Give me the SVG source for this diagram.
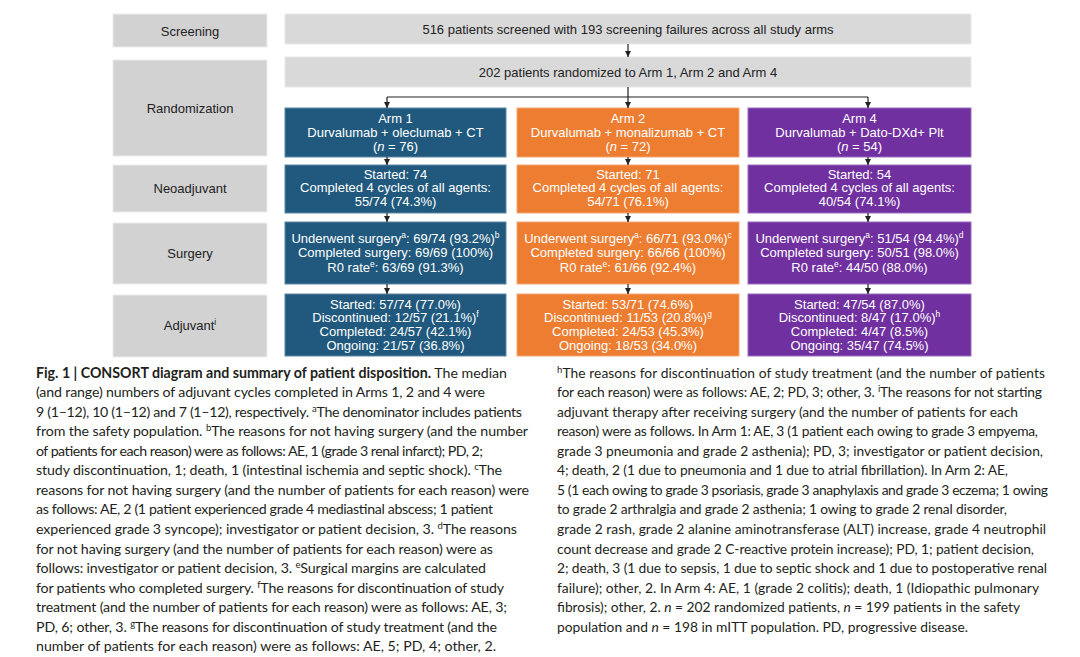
<svg xmlns="http://www.w3.org/2000/svg" width="1080" height="657" viewBox="0 0 1080 657">
<defs>
<style>
.lbl{fill:#d2d2d2;stroke:#ececec;stroke-width:1}
.gb{fill:#d9d9d9;stroke:#e8e8e8;stroke-width:1}
.b1{fill:#20597d;stroke:#5d87a4;stroke-width:1}
.b2{fill:#ed7d31;stroke:#f3a673;stroke-width:1}
.b4{fill:#7030a0;stroke:#9a6cbd;stroke-width:1}
.t{font-family:"Liberation Sans",Arial,sans-serif;font-size:13px;text-anchor:middle}
.dk{fill:#222}
.wt{fill:#fff}
.s{font-size:8.5px}
.cap{font-family:Lato,"Open Sans",sans-serif;font-size:14.2px;fill:#231f20}
.capr{font-size:13.8px}
.cs{font-size:9.5px}
.con{stroke:#222;stroke-width:1.2;fill:none}
</style>
<marker id="ah" viewBox="0 0 6 6" markerWidth="6" markerHeight="6" refX="6" refY="3" orient="auto" markerUnits="userSpaceOnUse">
<path d="M0,0 L6,3 L0,6 z" fill="#222"/>
</marker>
</defs>
<rect width="1080" height="657" fill="#fff"/>

<g id="labels">
<g id="lbl-screening"><rect class="lbl" x="113" y="14" width="154" height="33"/><text class="t dk" x="190" y="35.5">Screening</text></g>
<g id="lbl-randomization"><rect class="lbl" x="113" y="60" width="154" height="96"/><text class="t dk" x="190" y="113">Randomization</text></g>
<g id="lbl-neoadjuvant"><rect class="lbl" x="113" y="165" width="154" height="47"/><text class="t dk" x="190" y="193">Neoadjuvant</text></g>
<g id="lbl-surgery"><rect class="lbl" x="113" y="223" width="154" height="61"/><text class="t dk" x="190" y="257.5">Surgery</text></g>
<g id="lbl-adjuvant"><rect class="lbl" x="113" y="295" width="154" height="62"/><text class="t dk" x="190" y="330">Adjuvant<tspan class="s" baseline-shift="super">i</tspan></text></g>
</g>

<g id="screened"><rect class="gb" x="285" y="14" width="686" height="30"/><text class="t dk" x="628" y="33.6">516 patients screened with 193 screening failures across all study arms</text></g>
<g id="randomized"><rect class="gb" x="285" y="57" width="686" height="30"/><text class="t dk" x="628" y="76.6">202 patients randomized to Arm 1, Arm 2 and Arm 4</text></g>

<g id="arm1">
<rect class="b1" x="285" y="108" width="221" height="49"/>
<text class="t wt" x="395.5" y="122.7">Arm 1</text>
<text class="t wt" x="395.5" y="136.7">Durvalumab + oleclumab + CT</text>
<text class="t wt" x="395.5" y="150.7">(<tspan font-style="italic">n</tspan> = 76)</text>
</g>
<g id="arm2">
<rect class="b2" x="517" y="108" width="222" height="49"/>
<text class="t wt" x="628" y="122.7">Arm 2</text>
<text class="t wt" x="628" y="136.7">Durvalumab + monalizumab + CT</text>
<text class="t wt" x="628" y="150.7">(<tspan font-style="italic">n</tspan> = 72)</text>
</g>
<g id="arm4">
<rect class="b4" x="748" y="108" width="223" height="49"/>
<text class="t wt" x="859.5" y="122.7">Arm 4</text>
<text class="t wt" x="859.5" y="136.7">Durvalumab + Dato-DXd+ Plt</text>
<text class="t wt" x="859.5" y="150.7">(<tspan font-style="italic">n</tspan> = 54)</text>
</g>

<g id="neo1">
<rect class="b1" x="285" y="165" width="221" height="48"/>
<text class="t wt" x="395.5" y="178.5">Started: 74</text>
<text class="t wt" x="395.5" y="192">Completed 4 cycles of all agents:</text>
<text class="t wt" x="395.5" y="206">55/74 (74.3%)</text>
</g>
<g id="neo2">
<rect class="b2" x="517" y="165" width="222" height="48"/>
<text class="t wt" x="628" y="178.5">Started: 71</text>
<text class="t wt" x="628" y="192">Completed 4 cycles of all agents:</text>
<text class="t wt" x="628" y="206">54/71 (76.1%)</text>
</g>
<g id="neo4">
<rect class="b4" x="748" y="165" width="223" height="48"/>
<text class="t wt" x="859.5" y="178.5">Started: 54</text>
<text class="t wt" x="859.5" y="192">Completed 4 cycles of all agents:</text>
<text class="t wt" x="859.5" y="206">40/54 (74.1%)</text>
</g>

<g id="surg1">
<rect class="b1" x="285" y="222" width="221" height="62"/>
<text class="t wt" x="395.5" y="243">Underwent surgery<tspan class="s" baseline-shift="super">a</tspan>: 69/74 (93.2%)<tspan class="s" baseline-shift="super">b</tspan></text>
<text class="t wt" x="395.5" y="257">Completed surgery: 69/69 (100%)</text>
<text class="t wt" x="395.5" y="271.5">R0 rate<tspan class="s" baseline-shift="super">e</tspan>: 63/69 (91.3%)</text>
</g>
<g id="surg2">
<rect class="b2" x="517" y="222" width="222" height="62"/>
<text class="t wt" x="628" y="243">Underwent surgery<tspan class="s" baseline-shift="super">a</tspan>: 66/71 (93.0%)<tspan class="s" baseline-shift="super">c</tspan></text>
<text class="t wt" x="628" y="257">Completed surgery: 66/66 (100%)</text>
<text class="t wt" x="628" y="271.5">R0 rate<tspan class="s" baseline-shift="super">e</tspan>: 61/66 (92.4%)</text>
</g>
<g id="surg4">
<rect class="b4" x="748" y="222" width="223" height="62"/>
<text class="t wt" x="859.5" y="243">Underwent surgery<tspan class="s" baseline-shift="super">a</tspan>: 51/54 (94.4%)<tspan class="s" baseline-shift="super">d</tspan></text>
<text class="t wt" x="859.5" y="257">Completed surgery: 50/51 (98.0%)</text>
<text class="t wt" x="859.5" y="271.5">R0 rate<tspan class="s" baseline-shift="super">e</tspan>: 44/50 (88.0%)</text>
</g>

<g id="adj1">
<rect class="b1" x="285" y="294" width="221" height="62"/>
<text class="t wt" x="395.5" y="308.5">Started: 57/74 (77.0%)</text>
<text class="t wt" x="395.5" y="322.3">Discontinued: 12/57 (21.1%)<tspan class="s" baseline-shift="super">f</tspan></text>
<text class="t wt" x="395.5" y="336.2">Completed: 24/57 (42.1%)</text>
<text class="t wt" x="395.5" y="350">Ongoing: 21/57 (36.8%)</text>
</g>
<g id="adj2">
<rect class="b2" x="517" y="294" width="222" height="62"/>
<text class="t wt" x="628" y="308.5">Started: 53/71 (74.6%)</text>
<text class="t wt" x="628" y="322.3">Discontinued: 11/53 (20.8%)<tspan class="s" baseline-shift="super">g</tspan></text>
<text class="t wt" x="628" y="336.2">Completed: 24/53 (45.3%)</text>
<text class="t wt" x="628" y="350">Ongoing: 18/53 (34.0%)</text>
</g>
<g id="adj4">
<rect class="b4" x="748" y="294" width="223" height="62"/>
<text class="t wt" x="859.5" y="308.5">Started: 47/54 (87.0%)</text>
<text class="t wt" x="859.5" y="322.3">Discontinued: 8/47 (17.0%)<tspan class="s" baseline-shift="super">h</tspan></text>
<text class="t wt" x="859.5" y="336.2">Completed: 4/47 (8.5%)</text>
<text class="t wt" x="859.5" y="350">Ongoing: 35/47 (74.5%)</text>
</g>

<g id="connectors">
<path class="con" d="M628,44 V57" marker-end="url(#ah)"/>
<path class="con" d="M628,87 V97 M387,97 H868"/>
<path class="con" d="M387,97 V108" marker-end="url(#ah)"/>
<path class="con" d="M628,97 V108" marker-end="url(#ah)"/>
<path class="con" d="M868,97 V108" marker-end="url(#ah)"/>
<path class="con" d="M387,157 V165" marker-end="url(#ah)"/>
<path class="con" d="M628,157 V165" marker-end="url(#ah)"/>
<path class="con" d="M868,157 V165" marker-end="url(#ah)"/>
<path class="con" d="M387,213 V222" marker-end="url(#ah)"/>
<path class="con" d="M628,213 V222" marker-end="url(#ah)"/>
<path class="con" d="M868,213 V222" marker-end="url(#ah)"/>
<path class="con" d="M387,284 V294" marker-end="url(#ah)"/>
<path class="con" d="M628,284 V294" marker-end="url(#ah)"/>
<path class="con" d="M868,284 V294" marker-end="url(#ah)"/>
</g>

<g id="caption-left" class="cap">
<text x="36" y="377.8" textLength="471" lengthAdjust="spacing"><tspan font-weight="700">Fig. 1 | CONSORT diagram and summary of patient disposition.</tspan> The median</text>
<text x="36" y="397.3" textLength="449" lengthAdjust="spacing">(and range) numbers of adjuvant cycles completed in Arms 1, 2 and 4 were</text>
<text x="36" y="416.8" textLength="486" lengthAdjust="spacing">9 (1–12), 10 (1–12) and 7 (1–12), respectively. <tspan class="cs" baseline-shift="super">a</tspan>The denominator includes patients</text>
<text x="36" y="436.4" textLength="492" lengthAdjust="spacing">from the safety population. <tspan class="cs" baseline-shift="super">b</tspan>The reasons for not having surgery (and the number</text>
<text x="36" y="455.9" textLength="447" lengthAdjust="spacing">of patients for each reason) were as follows: AE, 1 (grade 3 renal infarct); PD, 2;</text>
<text x="36" y="475.4" textLength="466" lengthAdjust="spacing">study discontinuation, 1; death, 1 (intestinal ischemia and septic shock). <tspan class="cs" baseline-shift="super">c</tspan>The</text>
<text x="36" y="494.9" textLength="493" lengthAdjust="spacing">reasons for not having surgery (and the number of patients for each reason) were</text>
<text x="36" y="514.4" textLength="457" lengthAdjust="spacing">as follows: AE, 2 (1 patient experienced grade 4 mediastinal abscess; 1 patient</text>
<text x="36" y="534.0" textLength="481" lengthAdjust="spacing">experienced grade 3 syncope); investigator or patient decision, 3. <tspan class="cs" baseline-shift="super">d</tspan>The reasons</text>
<text x="36" y="553.5" textLength="457" lengthAdjust="spacing">for not having surgery (and the number of patients for each reason) were as</text>
<text x="36" y="573.0" textLength="450" lengthAdjust="spacing">follows: investigator or patient decision, 3. <tspan class="cs" baseline-shift="super">e</tspan>Surgical margins are calculated</text>
<text x="36" y="592.5" textLength="468" lengthAdjust="spacing">for patients who completed surgery. <tspan class="cs" baseline-shift="super">f</tspan>The reasons for discontinuation of study</text>
<text x="36" y="612.0" textLength="471" lengthAdjust="spacing">treatment (and the number of patients for each reason) were as follows: AE, 3;</text>
<text x="36" y="631.6" textLength="461" lengthAdjust="spacing">PD, 6; other, 3. <tspan class="cs" baseline-shift="super">g</tspan>The reasons for discontinuation of study treatment (and the</text>
<text x="36" y="651.1" textLength="460" lengthAdjust="spacing">number of patients for each reason) were as follows: AE, 5; PD, 4; other, 2.</text>
</g>

<g id="caption-right" class="cap capr">
<text x="557" y="377.8" textLength="488" lengthAdjust="spacing"><tspan class="cs" baseline-shift="super">h</tspan>The reasons for discontinuation of study treatment (and the number of patients</text>
<text x="557" y="397.3" textLength="485" lengthAdjust="spacing">for each reason) were as follows: AE, 2; PD, 3; other, 3. <tspan class="cs" baseline-shift="super">i</tspan>The reasons for not starting</text>
<text x="557" y="416.8" textLength="461" lengthAdjust="spacing">adjuvant therapy after receiving surgery (and the number of patients for each</text>
<text x="557" y="436.4" textLength="481" lengthAdjust="spacing">reason) were as follows. In Arm 1: AE, 3 (1 patient each owing to grade 3 empyema,</text>
<text x="557" y="455.9" textLength="486" lengthAdjust="spacing">grade 3 pneumonia and grade 2 asthenia); PD, 3; investigator or patient decision,</text>
<text x="557" y="475.4" textLength="451" lengthAdjust="spacing">4; death, 2 (1 due to pneumonia and 1 due to atrial fibrillation). In Arm 2: AE,</text>
<text x="557" y="494.9" textLength="491" lengthAdjust="spacing">5 (1 each owing to grade 3 psoriasis, grade 3 anaphylaxis and grade 3 eczema; 1 owing</text>
<text x="557" y="514.4" textLength="450" lengthAdjust="spacing">to grade 2 arthralgia and grade 2 asthenia; 1 owing to grade 2 renal disorder,</text>
<text x="557" y="534.0" textLength="489" lengthAdjust="spacing">grade 2 rash, grade 2 alanine aminotransferase (ALT) increase, grade 4 neutrophil</text>
<text x="557" y="553.5" textLength="477" lengthAdjust="spacing">count decrease and grade 2 C-reactive protein increase); PD, 1; patient decision,</text>
<text x="557" y="573.0" textLength="490" lengthAdjust="spacing">2; death, 3 (1 due to sepsis, 1 due to septic shock and 1 due to postoperative renal</text>
<text x="557" y="592.5" textLength="482" lengthAdjust="spacing">failure); other, 2. In Arm 4: AE, 1 (grade 2 colitis); death, 1 (Idiopathic pulmonary</text>
<text x="557" y="612.0" textLength="463" lengthAdjust="spacing">fibrosis); other, 2. <tspan font-style="italic">n</tspan> = 202 randomized patients, <tspan font-style="italic">n</tspan> = 199 patients in the safety</text>
<text x="557" y="631.6" textLength="411" lengthAdjust="spacing">population and <tspan font-style="italic">n</tspan> = 198 in mITT population. PD, progressive disease.</text>
</g>
</svg>
